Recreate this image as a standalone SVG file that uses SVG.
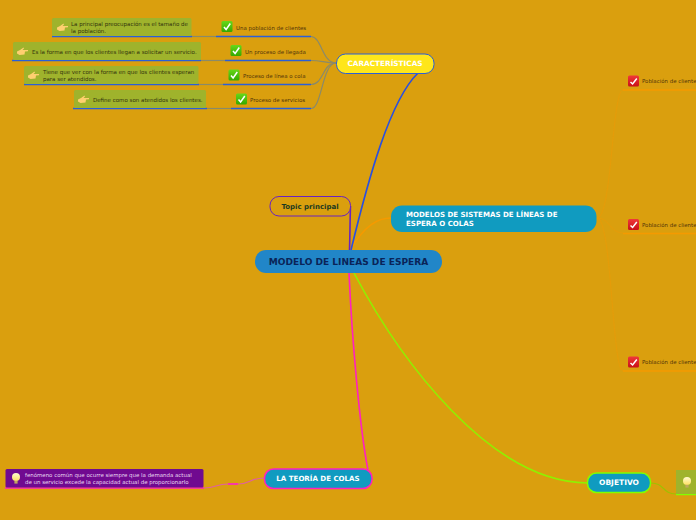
<svg xmlns="http://www.w3.org/2000/svg" width="696" height="520" viewBox="0 0 696 520">
<style>
text{font-family:"DejaVu Sans",Verdana,sans-serif}
.c{fill:none;stroke-width:1.2}
.t{fill:none;stroke-width:1.6}
.f{fill:none;stroke-width:.8;stroke:#e89a08}
.gy{stroke:#8a8a6a}
.u{fill:none;stroke-width:1.5}
.bl{stroke:#2a5fd8}
.note{fill:#9fb32c}
.nt{font-size:5.5px;fill:#33330c}
.lt{font-size:5.45px;fill:#54360a}
.wt{font-weight:bold;fill:#fff}
.chk{fill:none;stroke:#fff;stroke-width:1.5}
</style>
<defs>
<linearGradient id="gg" x1="0" y1="0" x2="0" y2="1"><stop offset="0" stop-color="#66d81a"/><stop offset="1" stop-color="#35a800"/></linearGradient>
<linearGradient id="rg" x1="0" y1="0" x2="0" y2="1"><stop offset="0" stop-color="#f0383a"/><stop offset="1" stop-color="#c81018"/></linearGradient>
<linearGradient id="by" x1="0" y1="0" x2="0" y2="1"><stop offset="0" stop-color="#fffbd0"/><stop offset="1" stop-color="#ffe060"/></linearGradient>
<g id="green"><rect x="0" y="0" width="11" height="11" rx="1.5" fill="url(#gg)"/><path class="chk" d="M2.500 6L4.600 8.500L8.800 2.500"/></g>
<g id="red"><rect x="0" y="0" width="11" height="11" rx="1.5" fill="url(#rg)"/><path class="chk" d="M2.500 6.500L4.600 8.500L8.800 3"/></g>
<path id="hand" d="M0 4.500L3 3L6.500 .5L7 1.500L5.500 3L11 3L11 4.200L8 4.500L7.500 7.500L2.500 8L0 6.500Z" fill="#ffcf70"/>
<g id="bulb"><circle cx="0" cy="-1" r="4" fill="url(#by)"/><rect x="-1.600" y="2.800" width="3.200" height="2.800" fill="#c0a860"/></g>
</defs>
<rect width="696" height="520" fill="#da9f0e"/>
<g id="connectors">
<path class="t" stroke="#f59a00" d="M350 250C365 225 378 218 391 218"/>
<path class="t" stroke="#2a4fe0" d="M351 250C368 180 390 100 418 73"/>
<path class="t" stroke="#6a22c0" d="M349.500 250C350 235 350 220 350.500 206"/>
<path class="t" stroke="#ff20c0" d="M349 273C352 340 360 430 368 470"/>
<path class="t" stroke="#90f000" d="M354 273C400 360 490 482 587 483"/>
<path class="c gy" d="M336 63C322 63 322 37 311 36.500"/>
<path class="c gy" d="M336 63C324 63 322 60.500 311 60.500"/>
<path class="c gy" d="M336 63C322 63 324 84.500 311 84.500"/>
<path class="c gy" d="M336 63C322 63 322 108.500 311 108.500"/>
<path class="c gy" d="M192 36.500H216"/>
<path class="c gy" d="M201 60.500H225"/>
<path class="c gy" d="M199 84.500H223"/>
<path class="c gy" d="M207 108.500H231"/>
<path class="u bl" d="M216 36.500H311M225 60.500H311M223 84.500H311M231 108.500H311"/>
<path class="u bl" d="M52 36.500H192M12 60.500H201M24 84.500H199M73 108.500H207"/>
<path class="f" d="M597 218C612 218 612 90 623 90"/>
<path class="f" d="M597 218C610 218 610 233 623 233"/>
<path class="f" d="M597 218C612 218 612 371 623 371"/>
<path class="u" stroke="#f59a00" d="M623 90H696M623 233.500H696M623 371H696"/>
<path class="c" stroke="#e060a0" d="M264 478C250 478 250 484 238 484H228C216 484 216 488 204 488"/>
<path class="u" stroke="#ff20c0" d="M228 484H238"/>
<path class="u" stroke="#ff20c0" d="M5 488H204"/>
<path class="c" stroke="#a0c000" d="M651 483C665 483 662 494 676 494"/>
<path class="u" stroke="#80ff00" d="M676 494.500H696"/>
</g>
<g id="central"><rect x="255" y="250" width="187" height="23" rx="11" fill="#2186c8"/><text x="348.500" y="265" text-anchor="middle" font-size="9.050" font-weight="bold" fill="#0a2458">MODELO DE LINEAS DE ESPERA</text></g>
<g id="topic"><rect x="270" y="196.500" width="80.500" height="19.500" rx="9" fill="#da9f0e" stroke="#6a22c0"/><text x="310" y="209" text-anchor="middle" font-size="7" font-weight="bold" fill="#1a3a20">Topic principal</text></g>
<g id="modelos"><rect x="391" y="205.500" width="205.500" height="26.500" rx="11" fill="#109bc0"/><text class="wt" x="406" y="217" font-size="7.050">MODELOS DE SISTEMAS DE LÍNEAS DE</text><text class="wt" x="406" y="226" font-size="7.050">ESPERA O COLAS</text></g>
<g id="caracteristicas"><rect x="336.500" y="54" width="97.500" height="19.500" rx="9" fill="#ffe61a" stroke="#2a5fd8"/><text class="wt" x="385" y="66" text-anchor="middle" font-size="7.300">CARACTERÍSTICAS</text></g>
<g id="teoria"><rect x="264.500" y="469" width="107.500" height="19.500" rx="9" fill="#109bc0" stroke="#ff20c0" stroke-width="1.500"/><text class="wt" x="318" y="481" text-anchor="middle" font-size="7.050">LA TEORÍA DE COLAS</text></g>
<g id="objetivo"><rect x="587.500" y="473" width="63" height="19.500" rx="9" fill="#109bc0" stroke="#80ff00" stroke-width="1.500"/><text class="wt" x="619" y="485" text-anchor="middle" font-size="7.500">OBJETIVO</text></g>
<g id="n1"><rect class="note" x="52" y="18" width="139.500" height="18" rx="1.500"/><use href="#hand" x="57" y="23"/><text class="nt" x="71" y="26">La principal preocupación es el tamaño de</text><text class="nt" x="71" y="33">la población.</text></g>
<g id="n2"><rect class="note" x="13" y="42" width="188" height="18" rx="1.500"/><use href="#hand" x="17" y="47"/><text class="nt" x="32" y="54">Es la forma en que los clientes llegan a solicitar un servicio.</text></g>
<g id="n3"><rect class="note" x="24" y="66" width="174.500" height="18" rx="1.500"/><use href="#hand" x="28" y="71"/><text class="nt" x="43" y="74">Tiene que ver con la forma en que los clientes esperan</text><text class="nt" x="43" y="81">para ser atendidos.</text></g>
<g id="n4"><rect class="note" x="74" y="90" width="132" height="18" rx="1.500"/><use href="#hand" x="78" y="95"/><text class="nt" x="93" y="102">Define como son atendidos los clientes.</text></g>
<g id="l1"><use href="#green" x="221.500" y="21"/><text class="lt" x="236" y="30">Una población de clientes</text></g>
<g id="l2"><use href="#green" x="230.500" y="45"/><text class="lt" x="245" y="54">Un proceso de llegada</text></g>
<g id="l3"><use href="#green" x="228.500" y="69.500"/><text class="lt" x="243" y="78">Proceso de línea o cola</text></g>
<g id="l4"><use href="#green" x="236" y="93.500"/><text class="lt" x="250" y="102">Proceso de servicios</text></g>
<g id="r1"><use href="#red" x="628" y="75.500"/><text class="lt" x="642" y="83">Población de clientes</text></g>
<g id="r2"><use href="#red" x="628" y="219"/><text class="lt" x="642" y="227">Población de clientes</text></g>
<g id="r3"><use href="#red" x="628" y="356.500"/><text class="lt" x="642" y="364">Población de clientes</text></g>
<g id="def"><rect x="5.500" y="469" width="198" height="18.500" rx="1.500" fill="#700a90"/><use href="#bulb" x="16" y="478"/><text x="25" y="477" font-size="5.450" fill="#e8d8f0">fenómeno común que ocurre siempre que la demanda actual</text><text x="25" y="484" font-size="5.450" fill="#e8d8f0">de un servicio excede la capacidad actual de proporcionarlo</text></g>
<g id="obj-note"><rect class="note" x="676" y="470" width="20" height="24"/><use href="#bulb" x="687" y="482"/></g>
</svg>
